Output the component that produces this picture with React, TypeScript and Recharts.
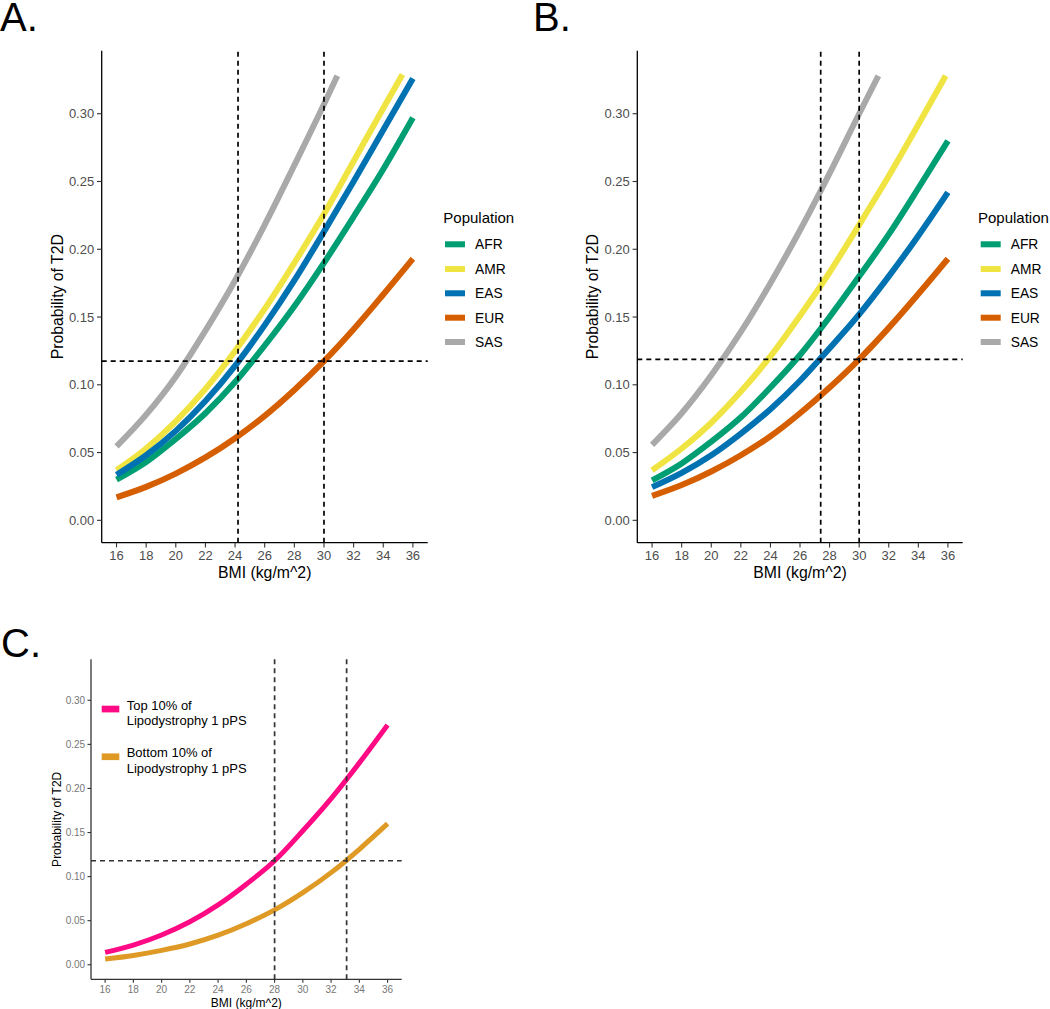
import React from "react";
import { LineChart, Line, XAxis, YAxis, ReferenceLine, Label } from "recharts";

const FONT = '"Liberation Sans", Arial, Helvetica, sans-serif';

const populations = ["AFR", "AMR", "EAS", "EUR", "SAS"];
const popColors = ["#009E73", "#F0E442", "#0072B2", "#D55E00", "#A9A9A9"];

const bmiTicks = [16, 18, 20, 22, 24, 26, 28, 30, 32, 34, 36];
const probTicks = [0, 0.05, 0.1, 0.15, 0.2, 0.25, 0.3];
const bmiGrid = [16, 18, 20, 22, 24, 26, 28, 30, 32, 34, 36];

// A. (AMR and SAS stop where they leave the 0-0.33 window)
const bmiAmrA = [16, 18, 20, 22, 24, 26, 28, 30, 32, 34, 35.3];
const bmiSasA = [16, 18, 20, 22, 24, 26, 28, 30, 30.9];
const afrA = [0.03, 0.043, 0.06, 0.079, 0.102, 0.129, 0.158, 0.19, 0.224, 0.259, 0.297];
const amrA = [0.037, 0.053, 0.073, 0.097, 0.125, 0.156, 0.19, 0.226, 0.265, 0.304, 0.329];
const easA = [0.0336, 0.048, 0.066, 0.088, 0.114, 0.144, 0.177, 0.213, 0.25, 0.288, 0.326];
const eurA = [0.017, 0.0247, 0.0345, 0.0464, 0.0606, 0.0771, 0.0962, 0.1174, 0.141, 0.1666, 0.193];
const sasA = [0.0545, 0.078, 0.106, 0.14, 0.177, 0.218, 0.262, 0.307, 0.328];
const cutsA = [24.2, 30];
const riskA = 0.1174;

// B.
const bmiAmrB = [16, 18, 20, 22, 24, 26, 28, 30, 32, 34, 35.85];
const bmiSasB = [16, 18, 20, 22, 24, 26, 28, 30, 31.3];
const afrB = [0.0295, 0.042, 0.058, 0.076, 0.098, 0.122, 0.15, 0.18, 0.211, 0.245, 0.28];
const amrB = [0.037, 0.053, 0.072, 0.095, 0.121, 0.151, 0.183, 0.218, 0.254, 0.292, 0.328];
const easB = [0.0245, 0.035, 0.048, 0.064, 0.082, 0.103, 0.127, 0.152, 0.18, 0.21, 0.242];
const eurB = [0.018, 0.026, 0.036, 0.048, 0.062, 0.079, 0.098, 0.1188, 0.142, 0.167, 0.193];
const sasB = [0.0557, 0.079, 0.107, 0.139, 0.175, 0.214, 0.256, 0.3, 0.328];
const cutsB = [27.4, 30];
const riskB = 0.1188;

// C.
const groupsC = [
  ["Top 10% of", "Lipodystrophy 1 pPS"],
  ["Bottom 10% of", "Lipodystrophy 1 pPS"],
];
const groupColors = ["#FF0A84", "#DF9A26"];
const topC = [0.014, 0.0223, 0.0337, 0.0487, 0.0679, 0.0914, 0.118, 0.152, 0.1885, 0.229, 0.272];
const bottomC = [0.0065, 0.0106, 0.0163, 0.0235, 0.0335, 0.0465, 0.0622, 0.0818, 0.1045, 0.131, 0.16];
const cutsC = [28, 33.1];
const riskC = 0.118;

const pts = (xs: number[], ys: number[]) => xs.map((bmi, i) => ({ bmi, p: ys[i] }));

const seriesA = [
  pts(bmiGrid, afrA),
  pts(bmiAmrA, amrA),
  pts(bmiGrid, easA),
  pts(bmiGrid, eurA),
  pts(bmiSasA, sasA),
];
const seriesB = [
  pts(bmiGrid, afrB),
  pts(bmiAmrB, amrB),
  pts(bmiGrid, easB),
  pts(bmiGrid, eurB),
  pts(bmiSasB, sasB),
];
const seriesC = [pts(bmiGrid, topC), pts(bmiGrid, bottomC)];

function Panel({
  left, top, width, height, plotTop, plotLeft, plotRight, axisH,
  series, colors, lineW, cuts, risk, tickFont, tickColor, axisColor,
  titleFont, yTitleX, xTitleDy, tickSize, yMargin, xMargin, dashColor,
}: any) {
  const yTitle = (props: any) => {
    const vb = props.viewBox;
    const cy = vb.y + vb.height / 2;
    return (
      <text x={yTitleX} y={cy} transform={`rotate(-90, ${yTitleX}, ${cy})`} textAnchor="middle"
        fontSize={titleFont} fill="#000" fontFamily={FONT}>
        Probability of T2D
      </text>
    );
  };
  const xTitle = (props: any) => {
    const vb = props.viewBox;
    return (
      <text x={vb.x + vb.width / 2} y={vb.y + xTitleDy} textAnchor="middle" fontSize={titleFont}
        fill="#000" fontFamily={FONT}>
        BMI (kg/m^2)
      </text>
    );
  };
  return (
    <div style={{ position: "absolute", left, top }}>
      <LineChart width={width} height={height} style={{ fontFamily: FONT }}
        margin={{ top: plotTop, right: width - plotRight, bottom: 0, left: 0 }}>
        <XAxis type="number" dataKey="bmi" domain={[15, 37]} ticks={bmiTicks} allowDataOverflow
          height={axisH} tickSize={tickSize} tickMargin={xMargin} interval={0}
          tick={{ fontSize: tickFont, fill: tickColor }}
          axisLine={{ stroke: axisColor, strokeWidth: 1.3 }} tickLine={{ stroke: "#333", strokeWidth: 1.1 }}>
          <Label content={xTitle} />
        </XAxis>
        <YAxis type="number" domain={[-0.0165, 0.3465]} ticks={probTicks} allowDataOverflow
          width={plotLeft} tickSize={tickSize} tickMargin={yMargin} interval={0}
          tickFormatter={(v: number) => v.toFixed(2)}
          tick={{ fontSize: tickFont, fill: tickColor }}
          axisLine={{ stroke: axisColor, strokeWidth: 1.3 }} tickLine={{ stroke: "#333", strokeWidth: 1.1 }}>
          <Label content={yTitle} />
        </YAxis>
        {series.map((d: any[], i: number) => (
          <Line key={i} data={d} dataKey="p" type="monotone" stroke={colors[i]} strokeWidth={lineW}
            dot={false} activeDot={false} isAnimationActive={false} />
        ))}
        {cuts.map((c: number) => (
          <ReferenceLine key={c} x={c} stroke={dashColor} strokeWidth={1.7} strokeDasharray="5 4" />
        ))}
        <ReferenceLine y={risk} stroke={dashColor} strokeWidth={1.7} strokeDasharray="5 4" />
      </LineChart>
    </div>
  );
}

function PopLegend({ x, keyX, textX }: { x: number; keyX: number; textX: number }) {
  const rows = [244.3, 269, 293.3, 317.7, 342];
  return (
    <g fontFamily={FONT}>
      <text x={x} y={222.5} fontSize={15} fill="#000">Population</text>
      {populations.map((p, i) => (
        <g key={p}>
          <rect x={keyX} y={rows[i] - 3} width={20} height={6} fill={popColors[i]} />
          <text x={textX} y={rows[i] + 4.9} fontSize={13.8} fill="#000">{p}</text>
        </g>
      ))}
    </g>
  );
}

export default function App() {
  const common = { width: 530, tickSize: 4.7, dashColor: "#000" };
  return (
    <div style={{ position: "absolute", left: 0, top: 0, width: 1050, height: 1009, overflow: "hidden", background: "#fff" }}>
      <Panel {...common} left={0} top={0} height={590} plotTop={50.7} plotLeft={101.7} plotRight={427.7}
        axisH={47.3} series={seriesA} colors={popColors} lineW={6} cuts={cutsA} risk={riskA}
        tickFont={13} tickColor="#4D4D4D" axisColor="#000" titleFont={15.8} yTitleX={62.7} xTitleDy={35.6}
        yMargin={2.8} xMargin={3.8} />
      <Panel {...common} left={520} top={0} height={590} plotTop={50.7} plotLeft={117.3} plotRight={442.7}
        axisH={47.3} series={seriesB} colors={popColors} lineW={6} cuts={cutsB} risk={riskB}
        tickFont={13} tickColor="#4D4D4D" axisColor="#000" titleFont={15.8} yTitleX={78.3} xTitleDy={35.6}
        yMargin={2.8} xMargin={3.8} />
      <Panel {...common} left={0} top={600} height={409} plotTop={59.3} plotLeft={91} plotRight={401.7}
        axisH={29.7} series={seriesC} colors={groupColors} lineW={5} cuts={cutsC} risk={riskC}
        tickFont={10} tickColor="#777" axisColor="#333" titleFont={12} yTitleX={61} xTitleDy={27.4}
        tickSize={3.5} yMargin={2.3} xMargin={2.6} dashColor="#333" />
      <svg width={1050} height={1009} style={{ position: "absolute", left: 0, top: 0, pointerEvents: "none" }}>
        <g fontFamily={FONT} fontSize={40} fill="#000">
          <text x={0} y={31}>A.</text>
          <text x={533} y={31}>B.</text>
          <text x={1} y={656.5}>C.</text>
        </g>
        <PopLegend x={443.3} keyX={445} textX={475} />
        <PopLegend x={978} keyX={980.7} textX={1010.7} />
        <g fontFamily={FONT} fontSize={13} fill="#000">
          {groupsC.map((lines, i) => {
            const keyY = [709, 756.7][i];
            const textY = [709.7, 757.4][i];
            return (
              <g key={i}>
                <rect x={101.7} y={keyY - 3.3} width={17.6} height={6.7} fill={groupColors[i]} />
                {lines.map((t, j) => (
                  <text key={j} x={126.7} y={textY + j * 15.5}>{t}</text>
                ))}
              </g>
            );
          })}
        </g>
      </svg>
    </div>
  );
}
